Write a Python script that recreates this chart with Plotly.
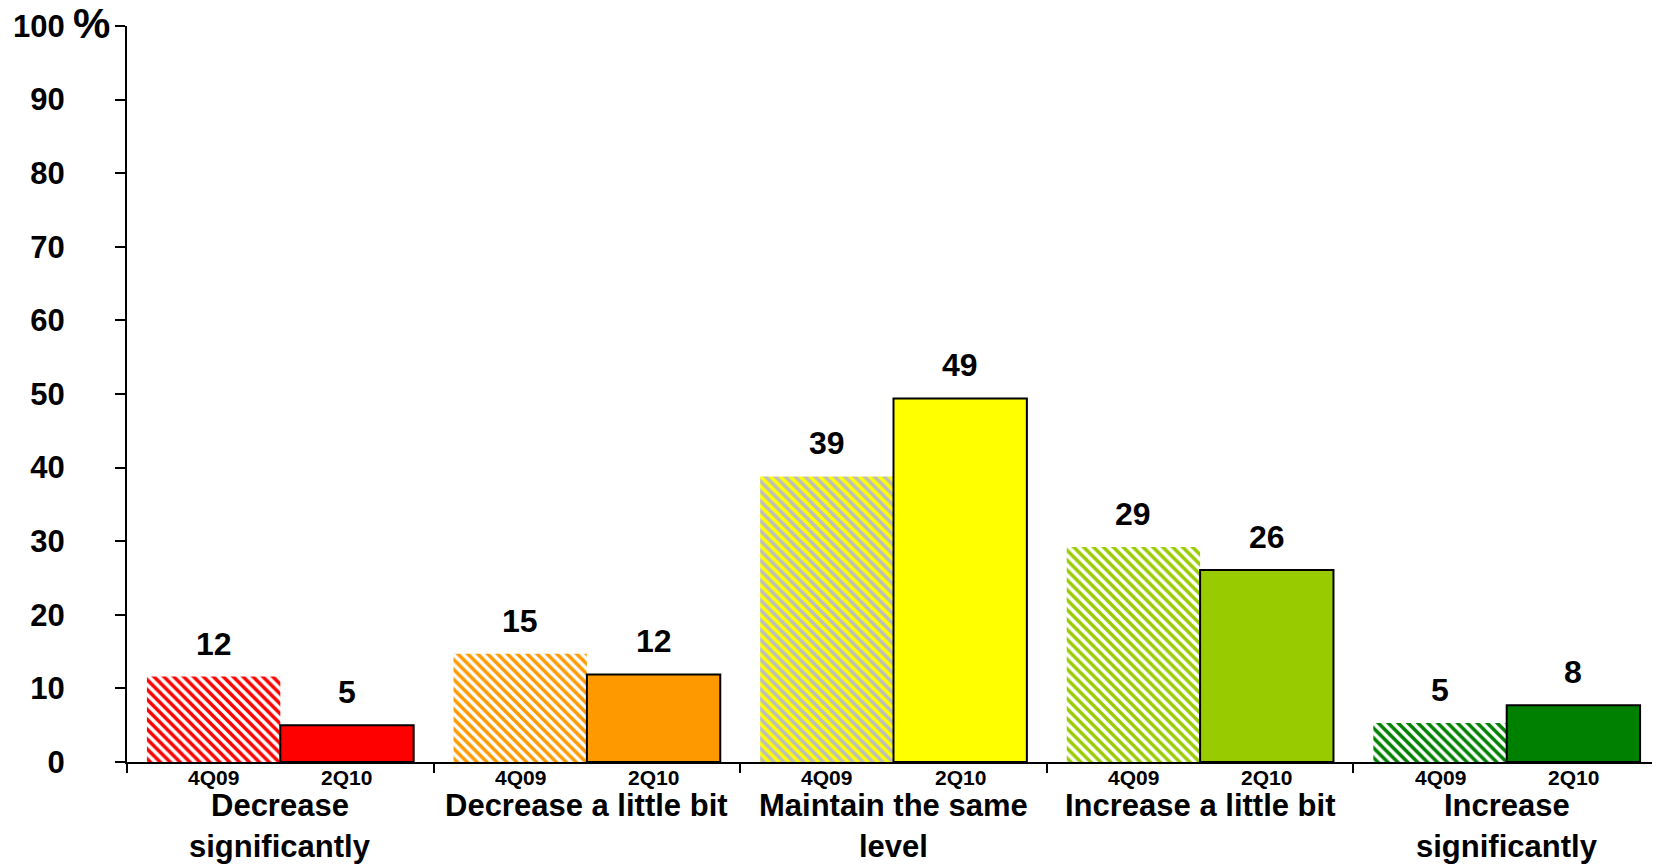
import plotly.graph_objects as go

# ---------------- data ----------------
categories = ["Decrease<br>significantly", "Decrease a little bit",
              "Maintain the same<br>level", "Increase a little bit",
              "Increase<br>significantly"]
periods = ["4Q09", "2Q10"]
values_4q09 = [11.6, 14.7, 38.8, 29.2, 5.3]
values_2q10 = [5.0, 11.9, 49.4, 26.1, 7.7]
labels_4q09 = ["12", "15", "39", "29", "5"]
labels_2q10 = ["5", "12", "49", "26", "8"]
y_tick_vals = [0, 10, 20, 30, 40, 50, 60, 70, 80, 90, 100]
y_tick_text = ["0", "10", "20", "30", "40", "50", "60", "70", "80", "90", "100"]

# ---------------- styles ----------------
solid_colors = ["#FF0000", "#FF9900", "#FFFF00", "#99CC00", "#008000"]
hatch_fg = ["#FF0000", "#FF9900", "#BDBDBD", "#99CC00", "#008000"]
hatch_bg = ["#FFFFFF", "#FFFFFF", "#FFFF00", "#FFFFFF", "#FFFFFF"]
FONT = "Liberation Sans, Arial, sans-serif"
BARGAP = 0.13
half = (1 - BARGAP) / 4.0  # offset of each bar centre from category centre

x_idx = list(range(len(categories)))

fig = go.Figure()
fig.add_trace(go.Bar(
    x=x_idx, y=values_4q09, name=periods[0],
    marker=dict(color="#FFFFFF",
                line=dict(width=0),
                pattern=dict(shape="\\", fgcolor=hatch_fg, bgcolor=hatch_bg,
                             size=7, solidity=0.5, fillmode="replace")),
    hoverinfo="skip",
))
fig.add_trace(go.Bar(
    x=x_idx, y=values_2q10, name=periods[1],
    marker=dict(color=solid_colors, line=dict(color="black", width=2)),
    hoverinfo="skip",
))

annotations = []
for i in x_idx:
    for off, val, lab, per in ((-half, values_4q09[i], labels_4q09[i], periods[0]),
                               (half, values_2q10[i], labels_2q10[i], periods[1])):
        # value label above the bar
        annotations.append(dict(
            x=i + off, y=val, xref="x", yref="y", text=lab, showarrow=False,
            yanchor="bottom", yshift=13,
            font=dict(family=FONT, size=32, color="black", weight="bold")))
        # period label under the bar
        annotations.append(dict(
            x=i + off, y=0, xref="x", yref="paper", text=per, showarrow=False,
            yanchor="middle", yshift=-15, borderpad=0,
            font=dict(family=FONT, size=21, color="black", weight="bold")))
    # category label (one annotation per line for exact line spacing)
    for k, line in enumerate(categories[i].split("<br>")):
        annotations.append(dict(
            x=i, y=0, xref="x", yref="paper", text=line, showarrow=False,
            yanchor="middle", yshift=-43 - 41 * k, borderpad=0,
            font=dict(family=FONT, size=31, color="black", weight="bold")))

annotations.append(dict(
    x=0, y=1, xref="paper", yref="paper", text="%", showarrow=False,
    xanchor="right", xshift=-15, yanchor="middle", yshift=3,
    font=dict(family=FONT, size=42, color="black", weight="bold")))

fig.update_layout(
    width=1652, height=864,
    margin=dict(l=119, r=0, t=18, b=110),
    paper_bgcolor="white", plot_bgcolor="white",
    barmode="group", bargap=BARGAP, bargroupgap=0,
    showlegend=False,
    annotations=annotations,
    xaxis=dict(
        range=[-0.5, 4.5], showticklabels=False,
        ticks="", showgrid=False, zeroline=False,
        showline=True, linecolor="black", linewidth=2,
        minor=dict(tickmode="linear", tick0=-0.5, dtick=1, ticks="outside",
                   ticklen=9, tickwidth=2, tickcolor="black", showgrid=False),
    ),
    yaxis=dict(
        range=[0, 100], tickmode="array", tickvals=y_tick_vals, ticktext=y_tick_text,
        ticks="outside", ticklen=10, tickwidth=2, tickcolor="black",
        showline=True, linecolor="black", linewidth=2,
        showgrid=False, zeroline=False,
        tickfont=dict(family=FONT, size=31, color="black", weight="bold"),
        ticklabelstandoff=44,
    ),
)

fig.write_html("out.html")
